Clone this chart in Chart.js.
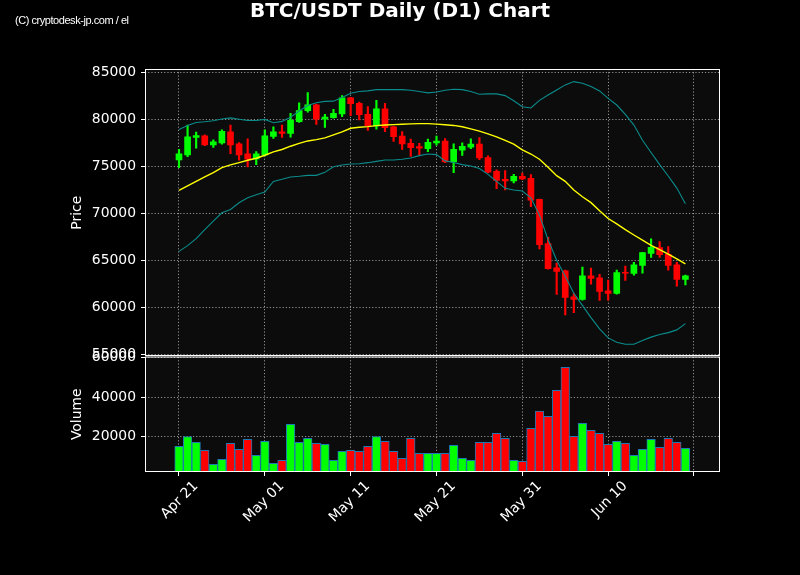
<!DOCTYPE html>
<html>
<head>
<meta charset="utf-8">
<script src="https://cdn.jsdelivr.net/npm/chart.js@4/dist/chart.umd.min.js"></script>
<style>
  html, body { margin: 0; padding: 0; background: #000; }
  #wrap { position: relative; width: 800px; height: 575px; }
  #copy { position: absolute; left: 15px; top: 14px; color: #fff;
          font: 11px "Liberation Sans", Arial, sans-serif; letter-spacing: -0.45px; }
</style>
</head>
<body>
<div id="wrap">
  <canvas id="c" width="800" height="575"></canvas>
  <div id="copy">(C) cryptodesk-jp.com / el</div>
</div>
<script>
// Day index 0 = Apr 21
const tickDays   = [0, 10, 20, 30, 40, 50, 60];
const tickLabels = ['Apr 21', 'May 01', 'May 11', 'May 21', 'May 31', 'Jun 10', ''];

const opens  = [75670,76210,78060,78240,77280,77490,78660,77380,76310,75780,
                76210,78170,78660,78490,79730,80920,81520,80000,80170,80560,
                82270,81700,80530,79290,81100,79180,78220,77440,77080,76870,
                77490,77670,75460,76710,77030,77350,75920,74460,73610,73430,
                73930,73720,71470,66770,64210,63890,61110,60830,63360,63140,
                61750,61470,63710,63600,64460,65740,66350,65630,64530,62960];
const highs  = [76810,79380,78630,78340,77810,78880,79380,77520,77920,76560,
                78880,79200,79380,80620,81730,82830,81600,80530,81060,82520,
                82340,81810,81340,82020,81700,79250,78680,77900,77440,77900,
                78200,77950,77380,77490,77920,78060,76100,74610,74530,74140,
                74280,74110,71520,67450,64710,63960,61470,64280,64170,63500,
                62890,63960,64390,64780,65850,67270,66990,66450,64780,63430];
const lows   = [74850,76030,76920,77200,76990,77350,76350,75640,74930,75170,
                76100,77950,78060,78090,79660,80740,79460,79140,80100,80280,
                80390,79920,78820,78930,78680,77650,76800,76050,76160,76550,
                77240,75390,74320,76140,76880,75710,74280,72610,72470,73220,
                73570,70690,66200,64050,61360,59190,59440,60760,62470,60720,
                60760,61400,62860,63430,63640,65310,65310,63960,62250,62390];
const closes = [76310,78130,78270,77280,77600,78700,77280,76210,75740,76310,
                78240,78660,78490,79870,80910,81520,80000,80240,80630,82270,
                81660,80490,79320,81100,79110,78150,77370,76980,76910,77550,
                77670,75460,76810,77130,77350,75890,74360,73500,73430,73930,
                73640,71400,66670,64100,63820,61040,60830,63360,63070,61680,
                61470,63680,63640,64530,65810,66380,65600,64460,62960,63360];
const bbMid  = [72430,72900,73390,73860,74320,74850,75140,75390,75640,75850,
                76170,76530,76780,77130,77430,77690,77830,78010,78330,78650,
                79040,79140,79210,79320,79390,79430,79460,79500,79530,79530,
                79480,79410,79340,79200,78980,78730,78450,78130,77740,77350,
                76750,76300,75750,74900,74000,73400,72470,71750,71130,70260,
                69440,68870,68260,67690,67140,66590,66140,65660,65140,64610];
const bbUpper = [78920,79340,79660,79730,79840,80020,80140,80000,79870,79870,
                 79980,79630,79770,80210,80880,81460,81760,81900,81920,82310,
                 82760,82940,83010,83150,83150,83150,83150,83080,82940,82800,
                 82900,83080,83180,83150,82940,82650,82690,82690,82510,81970,
                 81330,81190,82010,82580,83110,83650,84000,83830,83470,83010,
                 82220,81510,80510,79380,77770,76460,75170,73960,72680,71010];
const bbLower = [65950,66560,67310,68270,69160,70050,70400,71120,71650,71970,
                 72260,73390,73610,73860,73930,74030,74030,74350,74950,75130,
                 75240,75270,75380,75520,75660,75660,75740,75880,76130,76300,
                 76240,75570,75390,75170,75030,74750,74140,73390,72650,72470,
                 72360,71650,69800,67200,65000,63300,61500,60200,58900,57700,
                 56750,56280,56070,56080,56480,56830,57100,57310,57600,58260];
const volumes = [15130,20000,17160,13100,5990,8530,16650,13600,18680,10560,
                 17670,6500,8020,26290,17160,19190,16650,16140,8020,12590,
                 13100,12590,15130,20030,17670,12590,9040,19190,11570,11570,
                 11570,11570,15630,9040,8020,17160,17160,21730,19190,8020,
                 7510,24260,33060,30350,43550,55230,20200,26800,23250,21730,
                 16140,17670,16650,10560,13600,18680,14620,19190,17160,14110];
const priceTicks = [55000, 60000, 65000, 70000, 75000, 80000, 85000];
const volTicks   = [20000, 40000, 60000];

const UP = '#00ff00', DOWN = '#ff0000';
const colors = opens.map((o, i) => closes[i] >= o ? UP : DOWN);
const pt = (arr) => arr.map((v, i) => ({ x: i, y: v }));

const FONT = 'DejaVu Sans';
const TXT = '#ffffff';
const GRID = 'rgba(190,190,190,0.75)';

const panels = {
  id: 'panels',
  beforeDraw(chart) {
    const { ctx, chartArea: a, scales } = chart;
    ctx.save();
    ctx.fillStyle = '#000';
    ctx.fillRect(0, 0, chart.width, chart.height);
    ctx.fillStyle = '#0c0c0c';
    for (const id of ['price', 'vol']) {
      const s = scales[id];
      ctx.fillRect(a.left, s.top, a.right - a.left, s.bottom - s.top);
    }
    ctx.restore();
  },
  afterDraw(chart) {
    const { ctx, chartArea: a, scales } = chart;
    ctx.save();
    ctx.strokeStyle = '#ffffff';
    ctx.lineWidth = 1;
    const p = scales.price, v = scales.vol;
    ctx.strokeRect(a.left + 0.5, p.top + 0.5, a.right - a.left - 1, p.bottom - p.top - 1.5);
    ctx.strokeRect(a.left + 0.5, v.top + 0.5, a.right - a.left - 1, v.bottom - v.top - 1);
    ctx.restore();
  }
};

new Chart(document.getElementById('c'), {
  type: 'bar',
  data: {
    datasets: [
      { type: 'line', data: pt(bbUpper), yAxisID: 'price', borderColor: '#0b8c8c', borderWidth: 1.1,
        pointRadius: 0, tension: 0, order: 0 },
      { type: 'line', data: pt(bbLower), yAxisID: 'price', borderColor: '#0b8c8c', borderWidth: 1.1,
        pointRadius: 0, tension: 0, order: 0 },
      { type: 'line', data: pt(bbMid), yAxisID: 'price', borderColor: '#ffff00', borderWidth: 1.4,
        pointRadius: 0, tension: 0, order: 0 },
      { data: opens.map((o, i) => ({ x: i, y: [o, closes[i]] })), yAxisID: 'price',
        backgroundColor: colors, borderWidth: 0, barThickness: 6, grouped: false, order: 1 },
      { data: lows.map((l, i) => ({ x: i, y: [l, highs[i]] })), yAxisID: 'price',
        backgroundColor: colors, borderWidth: 0, barThickness: 1.5, grouped: false, order: 2 },
      { data: pt(volumes), yAxisID: 'vol', backgroundColor: colors, borderColor: '#1f77b4',
        borderWidth: 1, borderSkipped: 'bottom', barPercentage: 1, categoryPercentage: 1,
        grouped: false, order: 3 }
    ]
  },
  plugins: [panels],
  options: {
    responsive: false,
    animation: false,
    events: [],
    layout: { padding: { left: 0, right: 0, top: 0, bottom: 0 } },
    plugins: {
      legend: { display: false },
      tooltip: { enabled: false },
      title: {
        display: true, text: 'BTC/USDT Daily (D1) Chart', color: TXT,
        font: { family: FONT, size: 20, weight: 'bold' },
        padding: { top: 0, bottom: 45 }
      }
    },
    scales: {
      x: {
        type: 'linear', min: -3.96, max: 63.03, offset: false,
        afterBuildTicks: (s) => { s.ticks = tickDays.map(v => ({ value: v })); },
        afterFit: (s) => { s.height = 103; },
        ticks: {
          color: TXT, font: { family: FONT, size: 13.9 }, autoSkip: false,
          minRotation: 45, maxRotation: 45, padding: 2, labelOffset: 17,
          callback: (v) => { const k = tickDays.indexOf(v); return k >= 0 ? tickLabels[k] : ''; }
        },
        grid: { color: GRID, lineWidth: 1, offset: false, drawTicks: true, tickLength: 4, tickColor: '#ffffff' },
        border: { display: false, dash: [1.2, 2] }
      },
      spacer: {
        type: 'linear', axis: 'y', position: 'right', display: true,
        afterFit: (s) => { s.width = 80; },
        ticks: { display: false },
        grid: { display: false, drawTicks: false },
        border: { display: false }
      },
      vol: {
        type: 'linear', axis: 'y', position: 'left', stack: 'panels', stackWeight: 115.5,
        min: 2080, max: 60700,
        afterBuildTicks: (s) => { s.ticks = volTicks.map(v => ({ value: v })); },
        afterFit: (s) => { s.width = 145; },
        ticks: { color: TXT, font: { family: FONT, size: 13.9 }, padding: 5, callback: (v) => String(v) },
        title: { display: true, text: 'Volume', color: TXT, font: { family: FONT, size: 13.9 },
                 padding: { top: 69, bottom: 0 } },
        grid: { color: GRID, lineWidth: 1, tickLength: 4, tickColor: '#ffffff' },
        border: { display: false, dash: [1.2, 2] }
      },
      price: {
        type: 'linear', axis: 'y', position: 'left', stack: 'panels', stackWeight: 287.5,
        min: 54770, max: 85340,
        afterBuildTicks: (s) => { s.ticks = priceTicks.map(v => ({ value: v })); },
        afterFit: (s) => { s.width = 145; },
        ticks: { color: TXT, font: { family: FONT, size: 13.9 }, padding: 5, callback: (v) => String(v) },
        title: { display: true, text: 'Price', color: TXT, font: { family: FONT, size: 13.9 },
                 padding: { top: 69, bottom: 0 } },
        grid: { color: GRID, lineWidth: 1, tickLength: 4, tickColor: '#ffffff' },
        border: { display: false, dash: [1.2, 2] }
      }
    }
  }
});
</script>
</body>
</html>
